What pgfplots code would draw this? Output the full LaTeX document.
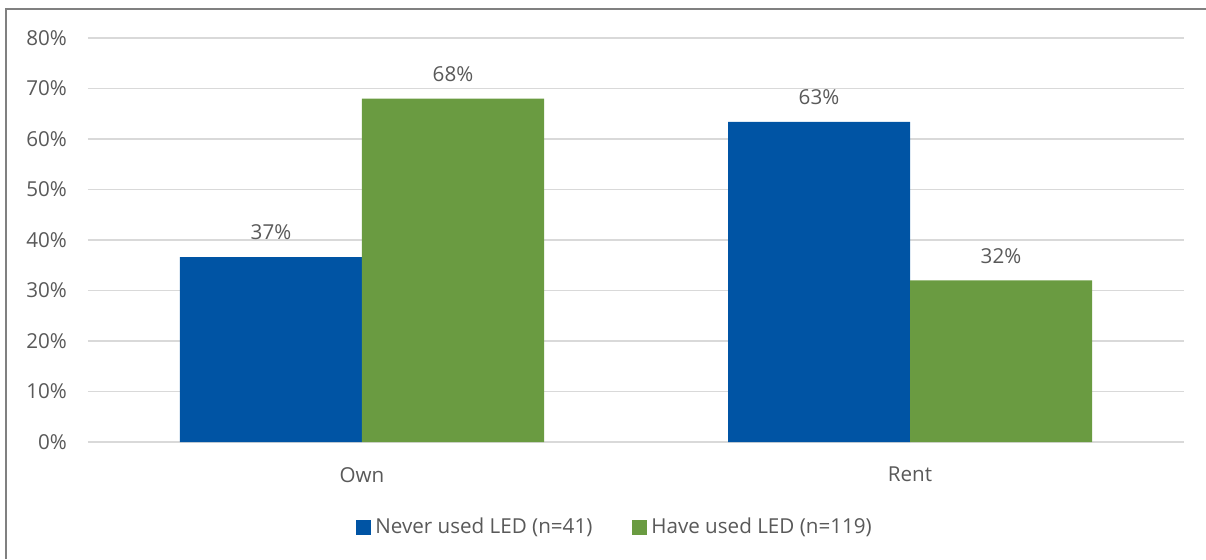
\documentclass[border=0pt]{standalone}
\usepackage{fontspec}
\setmainfont{Open Sans}
\usepackage{pgfplots}
\pgfplotsset{compat=1.18}
\definecolor{ledblue}{RGB}{0,84,164}
\definecolor{ledgreen}{RGB}{106,155,65}
\definecolor{gridgray}{RGB}{217,217,217}
\definecolor{txtgray}{RGB}{89,89,89}
\definecolor{framegray}{RGB}{128,128,128}
\begin{document}
\begin{tikzpicture}[font=\fontsize{10.3pt}{12pt}\selectfont]
  \path[use as bounding box] (0,0) rectangle (603pt,279.5pt);
  % outer frame (left and top edges)
  \draw[framegray, line width=1pt] (3pt,0) -- (3pt,275pt) -- (603pt,275pt);
  \begin{axis}[
    at={(44pt,58.5pt)}, anchor=south west,
    scale only axis, width=548pt, height=202pt,
    ybar=0pt, bar width=91pt,
    xmin=-0.5, xmax=1.5,
    ymin=0, ymax=80,
    xtick={0,1}, xticklabels={Own,Rent},
    ytick={0,10,...,80},
    yticklabel={\pgfmathprintnumber{\tick}\%},
    /pgf/number format/assume math mode=true,
    ymajorgrids, grid style={gridgray, line width=0.75pt},
    axis line style={draw=none},
    major tick length=0pt,
    tick label style={txtgray},
    yticklabel style={xshift=-7pt},
    xticklabel style={yshift=-9pt},
    nodes near coords={\pgfmathprintnumber[fixed,precision=0]{\pgfplotspointmeta}\%},
    nodes near coords style={txtgray, yshift=5pt, /pgf/number format/assume math mode=true},
    legend style={at={(0.4818,-0.2104)}, anchor=center, draw=none,
      legend columns=2, text=txtgray,
      /tikz/every even column/.append style={column sep=18pt}},
    legend cell align=left,
  ]
    \addplot[fill=ledblue, draw=none,
      legend image code/.code={\fill[ledblue] (0pt,-3.75pt) rectangle (7.5pt,3.75pt);}]
      coordinates {(0,36.6) (1,63.4)};
    \addplot[fill=ledgreen, draw=none,
      legend image code/.code={\fill[ledgreen] (0pt,-3.75pt) rectangle (7.5pt,3.75pt);}]
      coordinates {(0,68.0) (1,32.0)};
    \legend{Never used LED (n=41), Have used LED (n=119)}
  \end{axis}
\end{tikzpicture}
\end{document}
